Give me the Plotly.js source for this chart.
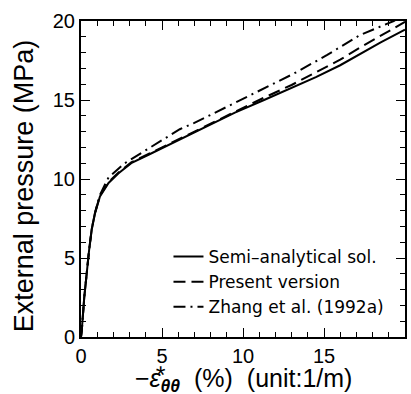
<!DOCTYPE html>
<html>
<head>
<meta charset="utf-8">
<script src="https://cdn.plot.ly/plotly-3.0.1.min.js"></script>
<style>html,body{margin:0;padding:0;background:#fff;}#chart{width:411px;height:394px;}</style>
</head>
<body>
<div id="chart"></div>
<script>
// Semi-analytical solution
const semiX = [0, 0.05, 0.2, 0.35, 0.5, 0.66, 0.86, 1.17, 1.7, 2.3, 3.1, 4.2, 5.4, 6.4, 8.0, 9.5, 11.3, 13.0, 14.5, 16.0, 17.2, 18.5, 20];
const semiY = [0, 0.45, 2.5, 4.2, 5.5, 6.8, 7.8, 8.9, 9.75, 10.35, 11.0, 11.55, 12.15, 12.7, 13.45, 14.2, 15.0, 15.75, 16.45, 17.2, 17.9, 18.65, 19.45];
// Present version
const presX = [0, 0.05, 0.2, 0.35, 0.5, 0.66, 0.86, 1.17, 1.7, 2.3, 3.1, 4.2, 5.4, 6.4, 8.0, 9.5, 11.3, 13.0, 14.5, 16.0, 17.2, 18.5, 20];
const presY = [0, 0.45, 2.5, 4.2, 5.5, 6.8, 7.85, 8.95, 9.8, 10.4, 11.05, 11.6, 12.2, 12.75, 13.5, 14.3, 15.15, 15.95, 16.75, 17.55, 18.3, 19.05, 19.95];
// Zhang et al. (1992a)
const zhangX = [0, 0.05, 0.2, 0.35, 0.5, 0.66, 0.86, 1.17, 1.7, 2.7, 3.75, 4.9, 6.1, 7.0, 9.0, 11.0, 13.1, 15.2, 17.2, 19.3, 20];
const zhangY = [0, 0.45, 2.5, 4.2, 5.5, 6.8, 7.85, 9.0, 10.1, 11.0, 11.65, 12.4, 13.15, 13.55, 14.55, 15.55, 16.65, 17.85, 19.1, 20.0, 20.4];

const seriesNames = ["Semi\u2013analytical sol.", "Present version", "Zhang et al. (1992a)"];
const xTitle = "\u2212<i>\u03b5\u20f0</i><sub><i><b>\u03b8\u03b8</b></i></sub>  (%)  (unit:1/m)";
const yTitle = "External pressure (MPa)";
const axisRange = [0, 20];
const minorStep = 1;

const traces = [
  {x: semiX, y: semiY, name: seriesNames[0], legendgroup: "a", mode: "lines", line: {color: "black", width: 2, dash: "solid"}},
  {x: presX, y: presY, name: seriesNames[1], legendgroup: "b", mode: "lines", line: {color: "black", width: 2, dash: "12px,6px"}},
  {x: zhangX, y: zhangY, name: seriesNames[2], legendgroup: "c", mode: "lines", line: {color: "black", width: 2, dash: "12px,5px,2px,5px"}}
];

const tickFont = {family: "Liberation Sans, Arial, sans-serif", size: 20, color: "black"};
function axisBase() {
  return {
    range: axisRange, showline: true, mirror: "allticks", linecolor: "black", linewidth: 2,
    ticks: "inside", ticklen: 9, tickcolor: "black",
    gridcolor: "#ffffff", zerolinecolor: "#ffffff",
    tickfont: tickFont,
    minor: {dtick: minorStep, ticks: "inside", ticklen: 5, tickcolor: "black"}
  };
}

const layout = {
  width: 411, height: 394,
  margin: {l: 81, r: 6, t: 21, b: 57},
  showlegend: true,
  legend: {x: 0.27, y: 0.31, xanchor: "left", yanchor: "top", bgcolor: "rgba(0,0,0,0)",
    font: {family: "DejaVu Sans, sans-serif", size: 17, color: "black"},
    traceorder: "grouped", tracegroupgap: 0, itemwidth: 30},
  xaxis: axisBase(),
  yaxis: axisBase(),
  annotations: [
    {text: xTitle, xref: "paper", yref: "paper", x: 0.5, y: -0.136, xanchor: "center", yanchor: "middle",
     showarrow: false, font: {family: "Liberation Sans, Arial, sans-serif", size: 25, color: "black"}},
    {text: yTitle, xref: "paper", yref: "paper", x: -0.176, y: 0.48, xanchor: "center", yanchor: "middle",
     textangle: -90, showarrow: false, font: {family: "Liberation Sans, Arial, sans-serif", size: 27, color: "black"}}
  ]
};

Plotly.newPlot("chart", traces, layout, {displayModeBar: false});
</script>
</body>
</html>
